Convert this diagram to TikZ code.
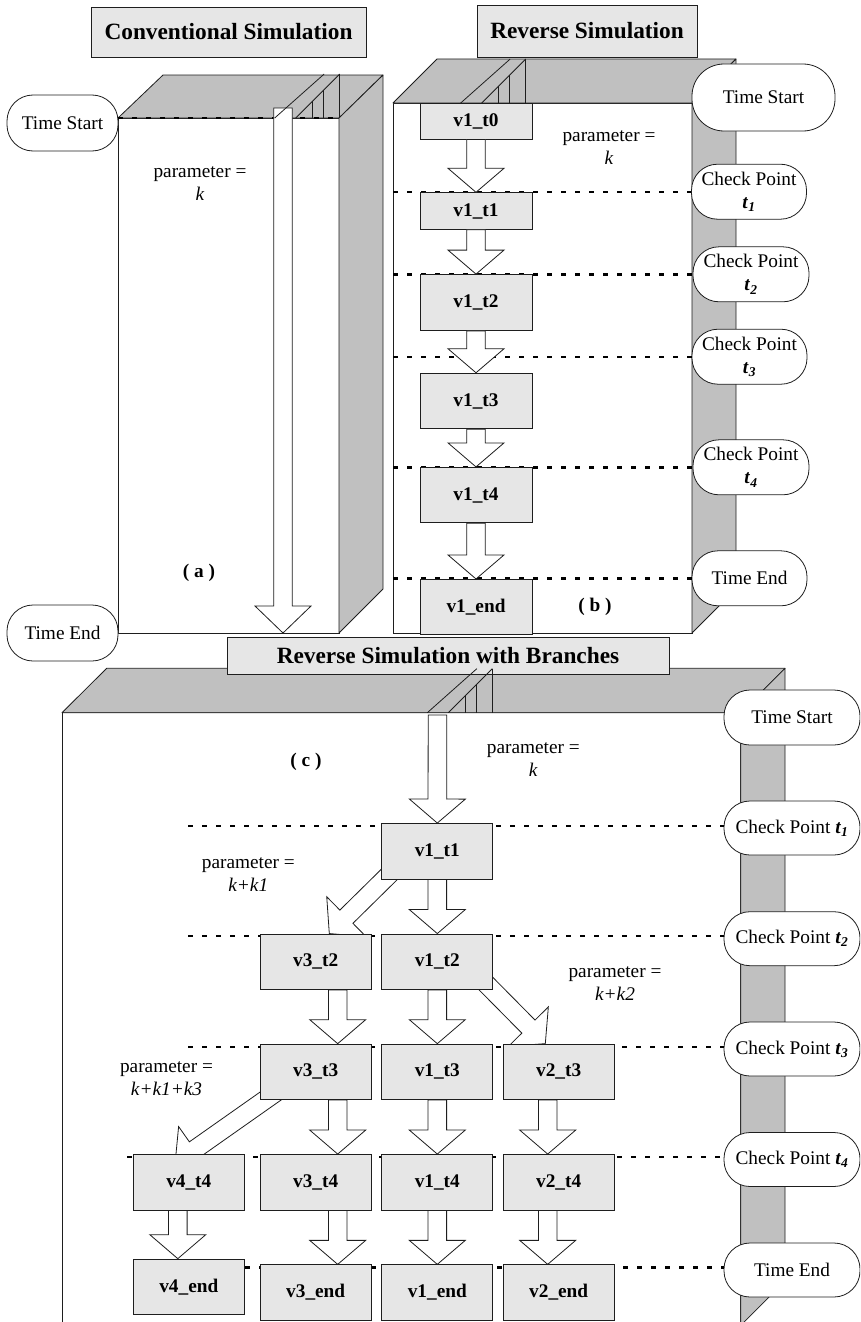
\documentclass[tikz,border=0pt]{standalone}
\usepackage{fontspec}
\setmainfont{Liberation Serif}
\usetikzlibrary{calc}

\definecolor{facegray}{RGB}{192,192,192}
\definecolor{boxgray}{RGB}{230,230,230}
\definecolor{edge}{RGB}{30,30,30}

\newcommand\txtsize{\fontsize{19.3}{23}\selectfont}
\newcommand\ttlsize{\fontsize{23.3}{27}\selectfont}
\newcommand\tsub[1]{\textbf{\textit{t}}\textsubscript{\textbf{\textit{#1}}}}

% hollow block arrow: [head length]{tail}{tip}
\newcommand\fatarrow[3][24]{%
  \path (#2) coordinate (fa-s) (#3) coordinate (fa-t);
  \path ($(fa-t)!#1pt!(fa-s)$) coordinate (fa-b);
  \draw[fat] ($(fa-s)!9.3pt!90:(fa-t)$) -- ($(fa-b)!9.3pt!90:(fa-t)$)
    -- ($(fa-b)!28pt!90:(fa-t)$) -- (fa-t) -- ($(fa-b)!28pt!-90:(fa-t)$)
    -- ($(fa-b)!9.3pt!-90:(fa-t)$) -- ($(fa-s)!9.3pt!-90:(fa-t)$) -- cycle;
}

% entry slot cut into the top face of a block: {x at front edge}{front edge y}
\newcommand\topslit[2]{%
  \draw[slitline] (#1-21,#2) -- (#1+28.5,#2-44);
  \draw[slitline] (#1,#2) -- (#1+44,#2-44);
  \draw[slitline] (#1+16.6,#2-16.6) -- (#1+16.6,#2);
  \draw[slitline] (#1+28,#2-28) -- (#1+28,#2);
  \draw[slitline] (#1+44,#2-44) -- (#1+44,#2);
}

\tikzset{
  face/.style={draw=edge, fill=facegray, line width=0.8pt, line join=round},
  front/.style={draw=edge, fill=white, line width=0.8pt},
  vbox/.style={draw=edge, fill=boxgray, line width=0.8pt, inner sep=0pt,
    minimum width=111pt, minimum height=55.5pt, font=\txtsize\bfseries},
  ttl/.style={draw=edge, fill=boxgray, line width=0.8pt, inner sep=0pt,
    font=\ttlsize\bfseries},
  pill/.style={draw=edge, fill=white, line width=0.8pt, inner sep=0pt,
    rounded corners=26pt, minimum width=115pt, minimum height=55pt,
    align=center, font=\txtsize},
  fat/.style={draw=edge, fill=white, line width=0.8pt, line join=miter},
  dots/.style={draw=black, line width=2.4pt, dash pattern=on 5pt off 9pt},
  note/.style={align=center, font=\txtsize, inner sep=0pt},
  tag/.style={font=\txtsize\bfseries, inner sep=0pt},
  slitline/.style={draw=edge, line width=0.8pt},
}

\begin{document}
\begin{tikzpicture}[x=1pt, y=-1pt]
\useasboundingbox (0,0) rectangle (860,1322);
\clip (0,0) rectangle (860,1322);

% ---------------- (a) conventional simulation ----------------
\draw[front] (118,118) rectangle (339,633);
\draw[face] (118,118) -- (163,75) -- (383,75) -- (339,118) -- cycle;
\draw[face] (339,118) -- (383,75) -- (383,589) -- (339,633) -- cycle;

\node[ttl, minimum width=275pt, minimum height=50pt] (ttlA) at (228.5,32) {Conventional Simulation};
\node[pill, minimum width=111pt, minimum height=56pt] (aStart) at (62.5,123) {Time Start};
\node[pill, minimum width=111pt, minimum height=56pt] (aEnd) at (62.5,633) {Time End};

\draw[dots] (aStart.east |- 0,118) -- (339,118);
\coordinate (aIn) at (283,108);
\coordinate (aOut) at (283,633);
\fatarrow[27]{aIn}{aOut}
\topslit{295.7}{118}

\node[note] (aPar) at (200,183.5) {parameter =\\\textit{k}};
\node[tag] (aTag) at (199,573) {( a )};

% ---------------- (b) reverse simulation ----------------
\draw[front] (393,103) rectangle (692,633);
\draw[face] (393,103) -- (437,59) -- (736,59) -- (692,103) -- cycle;
\draw[face] (692,103) -- (736,59) -- (736,589) -- (692,633) -- cycle;
\topslit{481.7}{103}

\node[ttl, minimum width=220pt, minimum height=52pt] (ttlB) at (587,31) {Reverse Simulation};

\node[pill, minimum width=143pt, minimum height=67pt, rounded corners=32pt] (bStart) at (763.5,97.5) {Time Start};
\node[pill] (bT1) at (749,191.7) {Check Point\\\tsub{1}};
\node[pill, minimum width=116pt] (bT2) at (751,274.3) {Check Point\\\tsub{2}};
\node[pill] (bT3) at (749.5,356.7) {Check Point\\\tsub{3}};
\node[pill, minimum width=116pt] (bT4) at (751,467.3) {Check Point\\\tsub{4}};
\node[pill] (bEnd) at (749.5,578.3) {Time End};

\draw[dots] (393,191.7) -- (bT1.west);
\draw[dots] (393,274.3) -- (bT2.west);
\draw[dots] (393,356.7) -- (bT3.west);
\draw[dots] (393,467.3) -- (bT4.west);
\draw[dots] (393,578.3) -- (bEnd.west);

\node[vbox, minimum width=112pt, minimum height=36pt] (bv1t0) at (476,121) {v1\_t0};
\node[vbox, minimum width=112pt, minimum height=36.6pt] (bv1t1) at (476,211) {v1\_t1};
\node[vbox, minimum width=112pt, minimum height=56pt] (bv1t2) at (476,302.5) {v1\_t2};
\node[vbox, minimum width=112pt, minimum height=55.7pt] (bv1t3) at (476,401) {v1\_t3};
\node[vbox, minimum width=112pt, minimum height=55.4pt] (bv1t4) at (476,495) {v1\_t4};
\node[vbox, minimum width=112pt, minimum height=54.7pt] (bv1end) at (476,606.7) {v1\_end};

\fatarrow{bv1t0.south}{bv1t1.north}
\fatarrow{bv1t1.south}{bv1t2.north}
\fatarrow{bv1t2.south}{bv1t3.north}
\fatarrow{bv1t3.south}{bv1t4.north}
\fatarrow{bv1t4.south}{bv1end.north}

\node[note] (bPar) at (609,147.5) {parameter =\\\textit{k}};
\node[tag] (bTag) at (595,606.7) {( b )};

% ---------------- (c) reverse simulation with branches ----------------
\draw[front] (62,712.7) rectangle (740.7,1340);
\draw[face] (62,712.7) -- (106.7,668.3) -- (785,668.3) -- (740.7,712.7) -- cycle;
\draw[face] (740.7,712.7) -- (785,668.3) -- (785,1281) -- (740.7,1325.4) -- cycle;

\node[ttl, minimum width=442pt, minimum height=37pt] (ttlC) at (448,655.5) {Reverse Simulation with Branches};
\topslit{448.3}{712.7}

\node[pill, minimum width=136pt] (cStart) at (792,717.5) {Time Start};
\node[pill, minimum width=136pt, minimum height=54pt] (cT1) at (792,828) {Check Point \tsub{1}};
\node[pill, minimum width=136pt, minimum height=54pt] (cT2) at (792,938.7) {Check Point \tsub{2}};
\node[pill, minimum width=136pt, minimum height=54pt] (cT3) at (792,1049) {Check Point \tsub{3}};
\node[pill, minimum width=136pt, minimum height=54pt] (cT4) at (792,1159.5) {Check Point \tsub{4}};
\node[pill, minimum width=136pt, minimum height=54pt] (cEnd) at (792,1270) {Time End};

\draw[dots] (188,825.7) -- (cT1.west |- 0,825.7);
\draw[dots] (188,936) -- (cT2.west |- 0,936);
\draw[dots] (188,1046.7) -- (cT3.west |- 0,1046.7);
\draw[dots] (127,1156.7) -- (cT4.west |- 0,1156.7);
\draw[dots] (133,1267.3) -- (cEnd.west |- 0,1267.3);

% version boxes (placed first so the arrows can refer to them)
\node[vbox] (cv1t1) at (437.3,851.2) {v1\_t1};
\node[vbox] (cv3t2) at (315.7,961.7) {v3\_t2};
\node[vbox] (cv1t2) at (437.3,961.7) {v1\_t2};
\node[vbox] (cv3t3) at (315.7,1071.8) {v3\_t3};
\node[vbox] (cv1t3) at (437.3,1071.8) {v1\_t3};
\node[vbox] (cv2t3) at (558.7,1071.8) {v2\_t3};
\node[vbox] (cv4t4) at (188.8,1182.2) {v4\_t4};
\node[vbox] (cv3t4) at (315.7,1182.2) {v3\_t4};
\node[vbox] (cv1t4) at (437.3,1182.2) {v1\_t4};
\node[vbox] (cv2t4) at (558.7,1182.2) {v2\_t4};
\node[vbox] (cv4end) at (188.8,1286.8) {v4\_end};
\node[vbox] (cv3end) at (315.7,1292.5) {v3\_end};
\node[vbox] (cv1end) at (437.3,1292.5) {v1\_end};
\node[vbox] (cv2end) at (558.7,1292.5) {v2\_end};

\coordinate (cIn) at (437.5,715);
\fatarrow{cIn}{cv1t1.north}
\fatarrow{cv1t1.south}{cv1t2.north}
\fatarrow{$(cv1t1.south west)+(10,-7)$}{$(cv3t2.north)+(13.6,0)$}
\fatarrow{$(cv3t2.south)+(22,0)$}{$(cv3t3.north)+(22,0)$}
\fatarrow{cv1t2.south}{cv1t3.north}
\fatarrow{$(cv1t2.south east)+(-9,-8)$}{$(cv2t3.north)+(-13.4,0)$}
\fatarrow{$(cv3t3.south)+(22,0)$}{$(cv3t4.north)+(22,0)$}
\fatarrow{cv1t3.south}{cv1t4.north}
\fatarrow{$(cv2t3.south)+(-11,0)$}{$(cv2t4.north)+(-11,0)$}
\fatarrow{$(cv3t3.south west)+(18,-9)$}{$(cv4t4.north)+(-13.7,9.2)$}
\fatarrow{$(cv4t4.south)+(-11,0)$}{$(cv4end.north)+(-11,0)$}
\fatarrow{$(cv3t4.south)+(22,0)$}{$(cv3end.north)+(22,0)$}
\fatarrow{cv1t4.south}{cv1end.north}
\fatarrow{$(cv2t4.south)+(-11,0)$}{$(cv2end.north)+(-11,0)$}

% boxes again, over the arrow ends
\foreach \n/\l in {cv1t1/v1\_t1, cv3t2/v3\_t2, cv1t2/v1\_t2, cv3t3/v3\_t3, cv1t3/v1\_t3,
  cv2t3/v2\_t3, cv4t4/v4\_t4, cv3t4/v3\_t4, cv1t4/v1\_t4, cv2t4/v2\_t4,
  cv4end/v4\_end, cv3end/v3\_end, cv1end/v1\_end, cv2end/v2\_end}
  \node[vbox] at (\n) {\l};

\node[note] (cPar) at (533.3,760) {parameter =\\\textit{k}};
\node[note] (cPar1) at (248.3,874.7) {parameter =\\\textit{k+k1}};
\node[note] (cPar2) at (615,983.5) {parameter =\\\textit{k+k2}};
\node[note] (cPar3) at (166.5,1078.5) {parameter =\\\textit{k+k1+k3}};
\node[tag] (cTag) at (306,761.7) {( c )};

\end{tikzpicture}
\end{document}
